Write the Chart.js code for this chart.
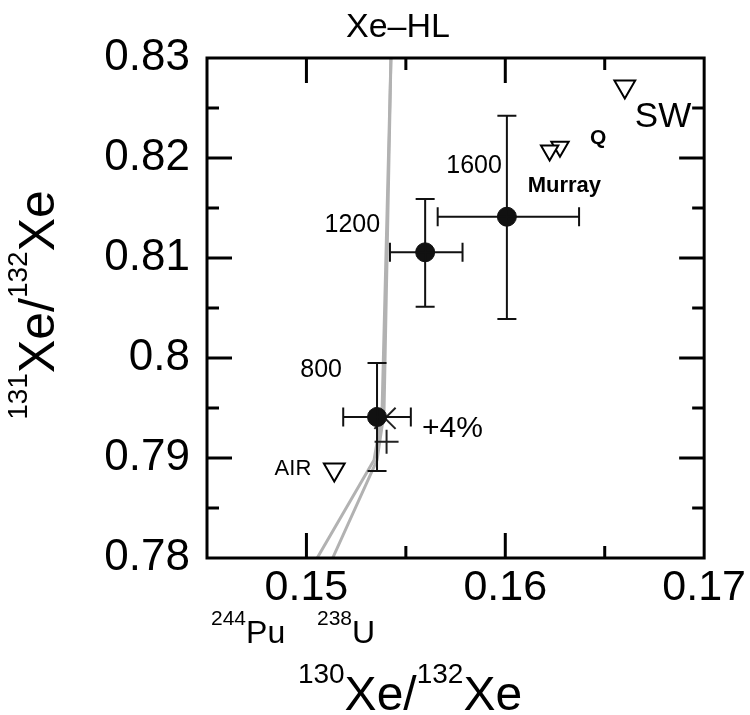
<!DOCTYPE html>
<html>
<head>
<meta charset="utf-8">
<title>Xe-HL</title>
<script src="https://cdn.jsdelivr.net/npm/chart.js@4.4.1/dist/chart.umd.min.js"></script>
<style>
  html, body { margin: 0; padding: 0; background: #fff; }
  canvas { display: block; }
</style>
</head>
<body>
<canvas id="graficoXe" width="750" height="715"></canvas>
<script>
// tick labels
const xTickLabels = [0.15, 0.16, 0.17];
const yTickLabels = [0.78, 0.79, 0.8, 0.81, 0.82, 0.83];

// measured fractions (temperature steps) with error bars
const sampleLabels = ['800', '1200', '1600'];
const sampleX   = [0.15355, 0.15597, 0.16008];
const sampleY   = [0.7941, 0.81057, 0.81413];
const sampleXLo = [0.15185, 0.15420, 0.15660];
const sampleXHi = [0.15525, 0.15785, 0.16371];
const sampleYLo = [0.7887, 0.80513, 0.80390];
const sampleYHi = [0.7995, 0.81590, 0.82423];

// reference compositions (open triangles)
const refNames = ['SW', 'Q', 'Murray', 'AIR'];
const refX = [0.16601, 0.16275, 0.16223, 0.1514];
const refY = [0.82714, 0.82113, 0.82074, 0.78886];

// +4% shift marker and small cross
const shiftX = [0.15395];
const shiftY = [0.79397];
const crossX = [0.15403];
const crossY = [0.79163];

// Xe-HL mixing lines towards 244Pu and 238U fission
const puLineX = [0.15425, 0.1538, 0.1534, 0.15054];
const puLineY = [0.83, 0.7945, 0.7898, 0.78];
const uLineX  = [0.15425, 0.1539, 0.15355, 0.15132];
const uLineY  = [0.83, 0.7945, 0.7898, 0.78];

function pares(xs, ys) {
    return xs.map((x, i) => ({ x: x, y: ys[i] }));
}

function rotuloTick(v, lista) {
    const m = lista.find(t => Math.abs(t - v) < 1e-6);
    return m === undefined ? '' : String(m);
}

function ehMaior(v, lista) {
    return lista.some(t => Math.abs(t - v) < 1e-6);
}

// draws text pieces with superscripts, left aligned from x at baseline y
function textoSobrescrito(ctx, partes, x, y, medir) {
    let w = 0;
    partes.forEach(p => {
        ctx.font = p.peso + ' ' + p.tam + 'px Arial';
        if (!medir) ctx.fillText(p.t, x + w, y - p.sobe);
        w += ctx.measureText(p.t).width;
    });
    return w;
}

const tituloX = [
    { t: '130', tam: 28, sobe: 27, peso: 'normal' },
    { t: 'Xe/', tam: 48, sobe: 0, peso: 'normal' },
    { t: '132', tam: 28, sobe: 27, peso: 'normal' },
    { t: 'Xe', tam: 48, sobe: 0, peso: 'normal' }
];
const tituloY = [
    { t: '131', tam: 28, sobe: 27, peso: 'normal' },
    { t: 'Xe/', tam: 50, sobe: 0, peso: 'normal' },
    { t: '132', tam: 28, sobe: 27, peso: 'normal' },
    { t: 'Xe', tam: 50, sobe: 0, peso: 'normal' }
];

// text labels anchored on a dataset point, with a pixel offset
const rotulos = [
    { texto: '800',    ds: 0, i: 0, dx: -35, dy: -40, al: 'right', font: '25px Arial' },
    { texto: '1200',   ds: 0, i: 1, dx: -45, dy: -20, al: 'right', font: '25px Arial' },
    { texto: '1600',   ds: 0, i: 2, dx: -5,  dy: -44, al: 'right', font: '25px Arial' },
    { texto: '+4%',    ds: 1, i: 0, dx: 37,  dy: 19,  al: 'left',  font: '30px Arial' },
    { texto: 'SW',     ds: 3, i: 0, dx: 10,  dy: 40,  al: 'left',  font: '35px Arial' },
    { texto: 'Q',      ds: 3, i: 1, dx: 30,  dy: -3,  al: 'left',  font: 'bold 21px Arial' },
    { texto: 'Murray', ds: 3, i: 2, dx: -22, dy: 41,  al: 'left',  font: 'bold 22px Arial' },
    { texto: 'AIR',    ds: 3, i: 3, dx: -23, dy: 6,   al: 'right', font: '22px Arial' }
];

const pluginErros = {
    id: 'barrasErro',
    afterDatasetsDraw(chart) {
        const ctx = chart.ctx;
        const sx = chart.scales.x, sy = chart.scales.y;
        const cap = 9.5;
        ctx.save();
        ctx.strokeStyle = '#111';
        ctx.lineWidth = 2;
        sampleX.forEach((v, i) => {
            const px = sx.getPixelForValue(v), py = sy.getPixelForValue(sampleY[i]);
            const x0 = sx.getPixelForValue(sampleXLo[i]), x1 = sx.getPixelForValue(sampleXHi[i]);
            const y0 = sy.getPixelForValue(sampleYLo[i]), y1 = sy.getPixelForValue(sampleYHi[i]);
            ctx.beginPath();
            ctx.moveTo(x0, py); ctx.lineTo(x1, py);
            ctx.moveTo(x0, py - cap); ctx.lineTo(x0, py + cap);
            ctx.moveTo(x1, py - cap); ctx.lineTo(x1, py + cap);
            ctx.moveTo(px, y0); ctx.lineTo(px, y1);
            ctx.moveTo(px - cap, y0); ctx.lineTo(px + cap, y0);
            ctx.moveTo(px - cap, y1); ctx.lineTo(px + cap, y1);
            ctx.stroke();
        });
        ctx.restore();
    }
};

const pluginMoldura = {
    id: 'moldura',
    afterDraw(chart) {
        const ctx = chart.ctx;
        const a = chart.chartArea;
        const sx = chart.scales.x, sy = chart.scales.y;
        ctx.save();
        ctx.strokeStyle = '#000';
        ctx.lineWidth = 3;
        ctx.strokeRect(a.left, a.top, a.right - a.left, a.bottom - a.top);
        ctx.beginPath();
        sx.ticks.forEach(t => {
            const px = sx.getPixelForValue(t.value);
            if (px < a.left + 3 || px > a.right - 3) return;
            const len = ehMaior(t.value, xTickLabels) ? 25 : 12;
            ctx.moveTo(px, a.bottom); ctx.lineTo(px, a.bottom - len);
            ctx.moveTo(px, a.top); ctx.lineTo(px, a.top + len);
        });
        sy.ticks.forEach(t => {
            const py = sy.getPixelForValue(t.value);
            if (py < a.top + 3 || py > a.bottom - 3) return;
            const len = ehMaior(t.value, yTickLabels) ? 25 : 12;
            ctx.moveTo(a.left, py); ctx.lineTo(a.left + len, py);
            ctx.moveTo(a.right, py); ctx.lineTo(a.right - len, py);
        });
        ctx.stroke();

        // texts
        ctx.fillStyle = '#000';
        ctx.textBaseline = 'alphabetic';
        ctx.textAlign = 'center';
        ctx.font = '34px Arial';
        ctx.fillText('Xe\u2013HL', 398, 37);

        rotulos.forEach(r => {
            const el = chart.getDatasetMeta(r.ds).data[r.i];
            ctx.font = r.font;
            ctx.textAlign = r.al;
            ctx.fillText(r.texto, el.x + r.dx, el.y + r.dy);
        });

        ctx.textAlign = 'left';
        // fission end members under the x axis
        textoSobrescrito(ctx, [
            { t: '244', tam: 21, sobe: 18, peso: 'normal' },
            { t: 'Pu', tam: 32, sobe: 0, peso: 'normal' }
        ], 211, 643);
        textoSobrescrito(ctx, [
            { t: '238', tam: 21, sobe: 18, peso: 'normal' },
            { t: 'U', tam: 32, sobe: 0, peso: 'normal' }
        ], 317, 643);

        // axis titles
        const wx = textoSobrescrito(ctx, tituloX, 0, 0, true);
        textoSobrescrito(ctx, tituloX, 410 - wx / 2, 710);

        const wy = textoSobrescrito(ctx, tituloY, 0, 0, true);
        ctx.translate(54, 305);
        ctx.rotate(-Math.PI / 2);
        textoSobrescrito(ctx, tituloY, -wy / 2, 0);
        ctx.restore();
    }
};

document.addEventListener('DOMContentLoaded', function () {
    const ctx = document.getElementById('graficoXe').getContext('2d');

    new Chart(ctx, {
        type: 'scatter',
        data: {
            datasets: [
                {
                    label: 'samples',
                    data: pares(sampleX, sampleY),
                    pointRadius: 9.5,
                    backgroundColor: '#111',
                    borderColor: '#111',
                    borderWidth: 1
                },
                {
                    label: '+4%',
                    data: pares(shiftX, shiftY),
                    pointStyle: 'crossRot',
                    pointRadius: 15,
                    borderColor: '#222',
                    borderWidth: 2
                },
                {
                    label: 'cross',
                    data: pares(crossX, crossY),
                    pointStyle: 'cross',
                    pointRadius: 12,
                    borderColor: '#222',
                    borderWidth: 2
                },
                {
                    label: 'references',
                    data: pares(refX, refY),
                    pointStyle: 'triangle',
                    rotation: 180,
                    pointRadius: [12, 10, 10, 12],
                    backgroundColor: '#fff',
                    borderColor: '#000',
                    borderWidth: 2
                },
                {
                    label: 'Pu',
                    data: pares(puLineX, puLineY),
                    showLine: true,
                    pointRadius: 0,
                    borderColor: '#b2b2b2',
                    borderWidth: 3
                },
                {
                    label: 'U',
                    data: pares(uLineX, uLineY),
                    showLine: true,
                    pointRadius: 0,
                    borderColor: '#b2b2b2',
                    borderWidth: 3
                }
            ]
        },
        options: {
            responsive: false,
            animation: false,
            devicePixelRatio: 1,
            layout: { padding: { top: 58, right: 40, bottom: 0, left: 0 } },
            plugins: {
                legend: { display: false },
                tooltip: { enabled: false }
            },
            scales: {
                x: {
                    type: 'linear',
                    min: 0.145,
                    max: 0.17,
                    grid: { display: false, drawTicks: false },
                    border: { display: false },
                    ticks: {
                        stepSize: 0.005,
                        autoSkip: false,
                        maxRotation: 0,
                        padding: 4,
                        color: '#000',
                        font: { family: 'Arial', size: 43 },
                        callback: v => rotuloTick(v, xTickLabels)
                    },
                    afterFit: s => { s.height = 157; }
                },
                y: {
                    type: 'linear',
                    min: 0.78,
                    max: 0.83,
                    grid: { display: false, drawTicks: false },
                    border: { display: false },
                    ticks: {
                        stepSize: 0.005,
                        autoSkip: false,
                        padding: 17,
                        color: '#000',
                        font: { family: 'Arial', size: 44 },
                        callback: v => rotuloTick(v, yTickLabels)
                    },
                    afterFit: s => { s.width = 207; }
                }
            }
        },
        plugins: [pluginErros, pluginMoldura]
    });
});
</script>
</body>
</html>
